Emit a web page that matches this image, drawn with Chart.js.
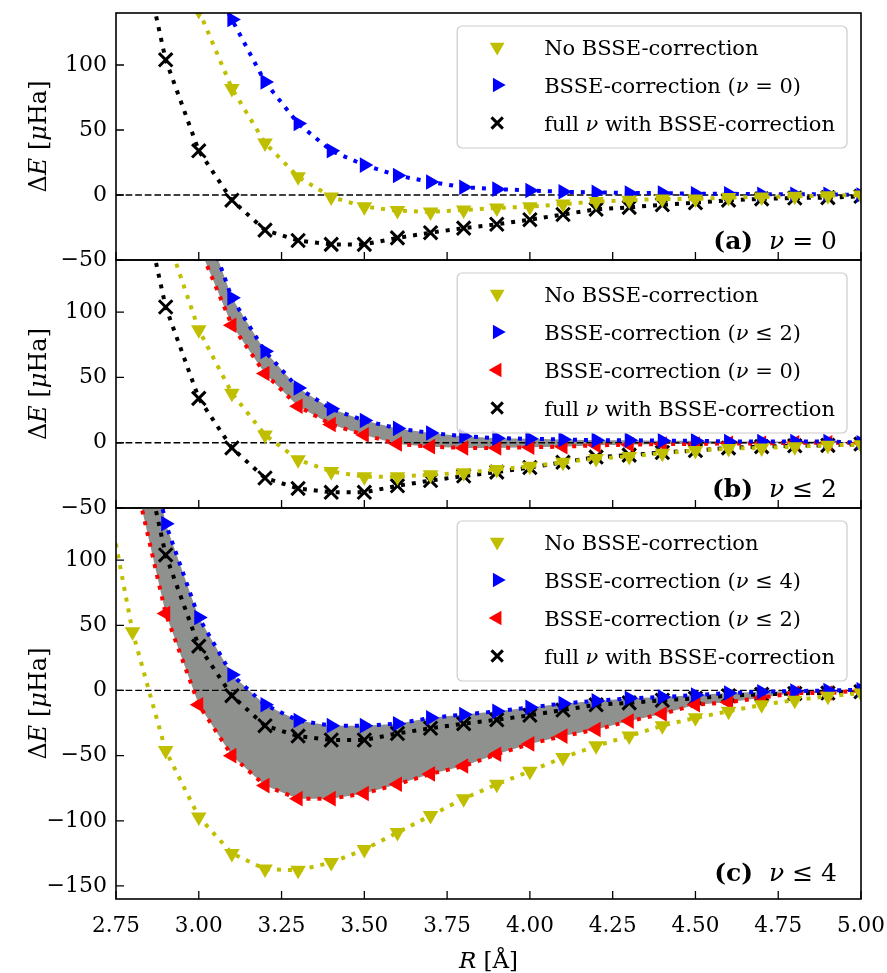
<!DOCTYPE html>
<html>
<head>
<meta charset="utf-8">
<script src="https://cdn.jsdelivr.net/npm/chart.js@4.4.1/dist/chart.umd.min.js"></script>
<style>
  html, body { margin: 0; padding: 0; background: #fff; }
  #wrap { position: relative; width: 887px; height: 973px; }
  #wrap canvas { position: absolute; left: 0; top: 0; }
</style>
</head>
<body>
<div id="wrap">
  <canvas id="panel-a" width="887" height="973"></canvas>
  <canvas id="panel-b" width="887" height="973"></canvas>
  <canvas id="panel-c" width="887" height="973"></canvas>
</div>
<script>
// separation R in Angstrom
const R = [2.7, 2.8, 2.9, 3.0, 3.1, 3.2, 3.3, 3.4, 3.5, 3.6, 3.7, 3.8,
           3.9, 4.0, 4.1, 4.2, 4.3, 4.4, 4.5, 4.6, 4.7, 4.8, 4.9, 5.0];

// full nu with BSSE-correction (same in all panels)
const fullNu = [null, 220, 104, 34, -4, -27, -35, -38, -38, -33, -29, -25.5,
                -22.5, -19, -15, -11, -9.5, -7.5, -6, -4, -3, -2.3, -2, -1];

// (a) nu = 0
const noCorrA = [null, null, null, 142, 82, 40, 14, -1.5, -9, -12, -13, -11.5,
                 -10, -9, -7, -5, -4, -3, -3, -2, -1.5, -1, -0.5, 0];
const bsseA0 = [null, null, null, 185, 135, 87, 55, 34, 23, 15, 10, 6,
                4.5, 3.5, 2.5, 2, 1.5, 1.5, 1, 1, 0.5, 0.5, 0.5, 0];

// (b) nu <= 2
const noCorrB = [null, null, 161, 86.5, 38, 6, -13, -22, -26, -26, -24.5, -23,
                 -20.5, -18, -15, -12, -10.5, -8, -6, -4.5, -4, -3, -2, -1.5];
const bsseB2 = [null, null, null, 182, 111, 70, 42, 26, 17, 11, 7.5, 5,
                3.5, 3, 2.5, 2, 2, 1.5, 1.5, 1, 1, 1, 1, 0];
const bsseB0 = [null, null, null, 151, 90, 53, 28, 14, 6, -1, -3, -4,
                -4, -3.5, -3, -2, -1.5, -1, -1, -0.5, -0.5, 0, 0, 0];

// (c) nu <= 4
const noCorrC = [179, 45, -46, -97, -125, -137, -138, -132, -122, -109, -96, -83,
                 -72, -62, -51.5, -42.5, -35, -27, -21, -16, -11, -7.5, -4.5, -2];
const bsseC4 = [null, 255, 128, 56, 12, -11, -23, -27, -27, -25.5, -21, -18.5,
                -16, -13, -10, -8, -6, -5, -3.5, -2, -1, -0.5, 0, 0.5];
const bsseC2 = [null, 171, 59, -11, -50, -73, -83, -83, -79, -72, -64, -58,
                -49, -41, -35, -30, -23.5, -18, -11, -9, -5.5, -2, -2, 0];

const xTicks = [2.75, 3.0, 3.25, 3.5, 3.75, 4.0, 4.25, 4.5, 4.75, 5.0];
const yTicksAB = [-50, 0, 50, 100];
const yTicksC = [-150, -100, -50, 0, 50, 100];

const FONT = "'DejaVu Serif', serif";
const YELLOW = "#bfbf00", BLUE = "#0000ff", RED = "#ff0000", BLACK = "#000000";
const FILL_GREY = "#8f918f";

function font(size, style) {
  return (style || "") + " " + size + "px " + FONT;
}

function pts(vals) {
  return R.map((r, i) => ({ x: r, y: vals[i] })).filter((p) => p.y !== null);
}

function series(label, vals, color, style, rotation, extra) {
  const cross = style === "crossRot";
  return Object.assign({
    label: label,
    data: pts(vals),
    borderColor: color,
    backgroundColor: color,
    borderWidth: 4,
    borderDash: [4, 7],
    borderCapStyle: "butt",
    pointStyle: style,
    pointRotation: rotation,
    pointRadius: cross ? 9.5 : 9,
    pointHoverRadius: cross ? 9.5 : 9,
    pointBorderWidth: cross ? 3 : 0,
    pointBorderColor: color,
    pointBackgroundColor: color,
    tension: 0,
    fill: false,
  }, extra || {});
}

function drawRich(ctx, parts, x, y, align) {
  let w = 0;
  parts.forEach((p) => { ctx.font = p.f; p.w = ctx.measureText(p.t).width; w += p.w; });
  let cx = align === "right" ? x - w : align === "center" ? x - w / 2 : x;
  ctx.textAlign = "left";
  parts.forEach((p) => { ctx.font = p.f; ctx.fillText(p.t, cx, y); cx += p.w; });
  return w;
}

function labelParts(text, size, weight) {
  return text.split(/([νμ])/).filter(Boolean).map((t) => ({
    t: t,
    f: font(size, /^[νμ]$/.test(t) ? "italic" : (weight || "")),
  }));
}

function partsWidth(ctx, parts) {
  let w = 0;
  parts.forEach((p) => { ctx.font = p.f; w += ctx.measureText(p.t).width; });
  return w;
}

const decor = {
  id: "decor",
  beforeDatasetsDraw(chart) {
    const { ctx, chartArea: a, scales } = chart;
    const y0 = scales.y.getPixelForValue(0);
    ctx.save();
    ctx.strokeStyle = "#000";
    ctx.lineWidth = 1.3;
    ctx.setLineDash([6.7, 2.9]);
    ctx.beginPath();
    ctx.moveTo(a.left, y0);
    ctx.lineTo(a.right, y0);
    ctx.stroke();
    ctx.restore();
  },
  afterDraw(chart, args, opts) {
    const { ctx, chartArea: a, scales } = chart;
    const xs = scales.x, ys = scales.y;
    ctx.save();

    // inward tick marks
    ctx.strokeStyle = "#000";
    ctx.lineWidth = 1.3;
    ctx.beginPath();
    xTicks.forEach((v) => {
      const px = xs.getPixelForValue(v);
      ctx.moveTo(px, a.bottom);
      ctx.lineTo(px, a.bottom - 8);
    });
    opts.yTicks.forEach((v) => {
      const py = ys.getPixelForValue(v);
      ctx.moveTo(a.left, py);
      ctx.lineTo(a.left + 8, py);
    });
    ctx.stroke();

    // frame
    ctx.lineWidth = 1.6;
    ctx.strokeRect(a.left, a.top, a.right - a.left, a.bottom - a.top);

    // legend
    const items = chart.data.datasets.filter((d) => d.label);
    let maxW = 0;
    items.forEach((d) => { maxW = Math.max(maxW, partsWidth(ctx, labelParts(d.label, 21))); });
    const right = a.right - 14;
    const left = right - 12 - maxW - 87;
    const top = a.top + 13;
    const h = 46 + 38 * (items.length - 1);
    ctx.beginPath();
    ctx.roundRect(left, top, right - left, h, 5);
    ctx.fillStyle = "rgba(255,255,255,0.8)";
    ctx.fill();
    ctx.strokeStyle = "#cccccc";
    ctx.lineWidth = 1.2;
    ctx.stroke();
    ctx.textBaseline = "alphabetic";
    items.forEach((d, i) => {
      const cy = top + 21 + 38 * i;
      ctx.fillStyle = d.pointBackgroundColor;
      ctx.strokeStyle = d.pointBorderColor;
      ctx.lineWidth = d.pointBorderWidth;
      Chart.helpers.drawPoint(ctx, {
        pointStyle: d.pointStyle,
        rotation: d.pointRotation,
        radius: d.pointStyle === "crossRot" ? 8 : 8.5,
        borderWidth: d.pointBorderWidth,
      }, left + 40, cy);
      ctx.fillStyle = "#000";
      drawRich(ctx, labelParts(d.label, 21), left + 87, cy + 8, "left");
    });

    // panel tag
    const ph = a.bottom - a.top;
    ctx.fillStyle = "#000";
    drawRich(ctx, [{ t: opts.tag, f: font(25, "bold") }, { t: "  ", f: font(25) }]
      .concat(labelParts(opts.cond, 25)), a.right - 24, a.bottom - 0.045 * ph, "right");

    // y title
    ctx.translate(46, (a.top + a.bottom) / 2);
    ctx.rotate(-Math.PI / 2);
    drawRich(ctx, [
      { t: "Δ", f: font(24) }, { t: "E", f: font(24, "italic") },
      { t: " [", f: font(24) }, { t: "μ", f: font(24, "italic") },
      { t: "Ha]", f: font(24) },
    ], 0, 0, "center");
    ctx.restore();

    if (opts.xTitle) {
      ctx.save();
      ctx.fillStyle = "#000";
      ctx.textBaseline = "alphabetic";
      drawRich(ctx, [{ t: "R", f: font(23, "italic") }, { t: " [Å]", f: font(23) }],
        (a.left + a.right) / 2, 968, "center");
      ctx.restore();
    }
  },
};

function makePanel(id, padTop, padBottom, yMin, yMax, yTicks, datasets, tag, cond, showX) {
  const ctx = document.getElementById(id).getContext("2d");
  return new Chart(ctx, {
    type: "line",
    data: { datasets: datasets },
    plugins: [decor],
    options: {
      responsive: false,
      animation: false,
      events: [],
      layout: { padding: { top: padTop, bottom: padBottom, left: 0, right: 26 } },
      scales: {
        x: {
          type: "linear",
          min: 2.75,
          max: 5.0,
          display: showX,
          afterBuildTicks: (s) => { s.ticks = xTicks.map((v) => ({ value: v })); },
          afterFit: (s) => {
            s.height = showX ? 74 : 0;
            s.paddingLeft = 0;
            s.paddingRight = 0;
          },
          grid: { display: false, drawTicks: false },
          border: { display: false },
          ticks: {
            color: "#000",
            padding: 15,
            maxRotation: 0,
            autoSkip: false,
            font: { family: "'DejaVu Serif', serif", size: 21.5 },
            callback: (v) => Number(v).toFixed(2),
          },
        },
        y: {
          type: "linear",
          min: yMin,
          max: yMax,
          afterBuildTicks: (s) => { s.ticks = yTicks.map((v) => ({ value: v })); },
          afterFit: (s) => {
            s.width = 116;
            s.paddingTop = 0;
            s.paddingBottom = 0;
          },
          grid: { display: false, drawTicks: false },
          border: { display: false },
          ticks: {
            color: "#000",
            padding: 9,
            font: { family: "'DejaVu Serif', serif", size: 22 },
            callback: (v) => String(v).replace("-", "\u2212"),
          },
        },
      },
      plugins: {
        legend: { display: false },
        tooltip: { enabled: false },
        filler: { drawTime: "beforeDatasetsDraw" },
        decor: { yTicks: yTicks, tag: tag, cond: cond, xTitle: showX },
      },
    },
  });
}

makePanel("panel-a", 13, 713, -50, 140, yTicksAB, [
  series("No BSSE-correction", noCorrA, YELLOW, "triangle", 180),
  series("BSSE-correction (ν = 0)", bsseA0, BLUE, "triangle", 90),
  series("full ν with BSSE-correction", fullNu, BLACK, "crossRot", 0),
], "(a)", "ν = 0", false);

makePanel("panel-b", 260, 465, -50, 140, yTicksAB, [
  series("No BSSE-correction", noCorrB, YELLOW, "triangle", 180),
  series("BSSE-correction (ν ≤ 2)", bsseB2, BLUE, "triangle", 90,
    { fill: { target: "+1" }, backgroundColor: FILL_GREY }),
  series("BSSE-correction (ν = 0)", bsseB0, RED, "triangle", 270),
  series("full ν with BSSE-correction", fullNu, BLACK, "crossRot", 0),
], "(b)", "ν ≤ 2", false);

makePanel("panel-c", 508, 0, -160, 140, yTicksC, [
  series("No BSSE-correction", noCorrC, YELLOW, "triangle", 180),
  series("BSSE-correction (ν ≤ 4)", bsseC4, BLUE, "triangle", 90,
    { fill: { target: "+1" }, backgroundColor: FILL_GREY }),
  series("BSSE-correction (ν ≤ 2)", bsseC2, RED, "triangle", 270),
  series("full ν with BSSE-correction", fullNu, BLACK, "crossRot", 0),
], "(c)", "ν ≤ 4", true);
</script>
</body>
</html>
